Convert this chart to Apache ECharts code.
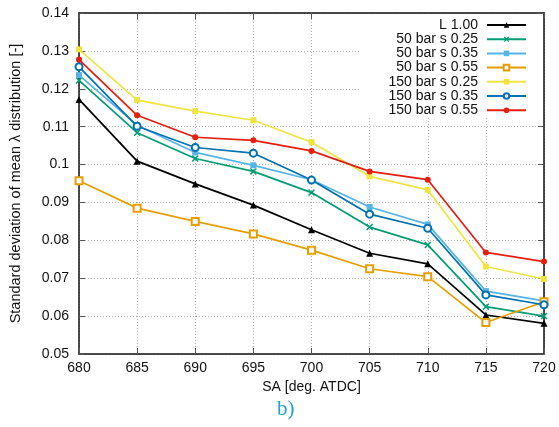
<!DOCTYPE html>
<html>
<head>
<meta charset="utf-8">
<script src="https://cdn.jsdelivr.net/npm/echarts@6/dist/echarts.min.js"></script>
<style>html,body{margin:0;padding:0;background:#fff}#c{width:559px;height:427px}</style>
</head>
<body>
<div id="c"></div>
<script>
// ---- data ----
var sa = [680, 685, 690, 695, 700, 705, 710, 715, 720];
var seriesNames = ['L 1.00', '50 bar s 0.25', '50 bar s 0.35', '50 bar s 0.55', '150 bar s 0.25', '150 bar s 0.35', '150 bar s 0.55'];
var L100    = [0.1172, 0.1009, 0.0949, 0.0893, 0.0828, 0.0766, 0.0738, 0.0603, 0.0581];
var b50s25  = [0.1222, 0.1084, 0.1016, 0.0982, 0.0926, 0.0835, 0.0788, 0.0625, 0.0600];
var b50s35  = [0.1236, 0.1104, 0.1032, 0.0998, 0.0960, 0.0888, 0.0842, 0.0666, 0.0640];
var b50s55  = [0.0957, 0.0885, 0.0850, 0.0817, 0.0774, 0.0725, 0.0704, 0.0583, 0.0638];
var b150s25 = [0.1304, 0.1170, 0.1141, 0.1117, 0.1059, 0.0969, 0.0933, 0.0731, 0.0698];
var b150s35 = [0.1258, 0.1101, 0.1045, 0.1030, 0.0959, 0.0869, 0.0832, 0.0656, 0.0630];
var b150s55 = [0.1277, 0.1130, 0.1072, 0.1064, 0.1036, 0.0982, 0.0960, 0.0768, 0.0744];
var xTicks = [680, 685, 690, 695, 700, 705, 710, 715, 720];
var yTicks = ['0.05', '0.06', '0.07', '0.08', '0.09', '0.1', '0.11', '0.12', '0.13', '0.14'];

// ---- styles ----
var FONT = "'Liberation Sans', Arial, Helvetica, sans-serif";
var colors = ['#000000', '#009e73', '#56b4e9', '#e69f00', '#f0e442', '#0072b2', '#e51e10'];
var crossPath = 'path://M0,1.5L1.5,0L5,3.5L8.5,0L10,1.5L6.5,5L10,8.5L8.5,10L5,6.5L1.5,10L0,8.5L3.5,5Z';
var symbols = ['triangle', crossPath, 'rect', 'emptyRect', 'rect', 'emptyCircle', 'circle'];
var symSizes = [7, 7, 6, 7, 6, 7, 6];
var allData = [L100, b50s25, b50s35, b50s55, b150s25, b150s35, b150s55];

function pairs(xs, ys) { return xs.map(function (x, i) { return [x, ys[i]]; }); }

var series = allData.map(function (d, i) {
  return {
    name: seriesNames[i], type: 'line', data: pairs(sa, d),
    symbol: symbols[i], symbolSize: symSizes[i],
    lineStyle: { color: colors[i], width: 1.7 },
    itemStyle: { color: colors[i], borderColor: colors[i], borderWidth: symbols[i].indexOf('empty') === 0 ? 1.4 : 0 },
    emphasis: { disabled: true }, animation: false, z: 2 + i * 0.01
  };
});

var legends = seriesNames.map(function (n, i) {
  return {
    data: [n], right: 32, top: 25 + 14.2 * i - 7, align: 'right', orient: 'vertical',
    padding: 0, itemWidth: 39, itemHeight: 7, selectedMode: false,
    textStyle: { fontFamily: FONT, fontSize: 14, color: '#111', padding: [0, 4, 0, 0] }
  };
});

var axisLineStyle = { show: true, lineStyle: { color: '#111', width: 1.5 } };
var splitStyle = { show: true, lineStyle: { color: '#b0b0b0', type: [1, 2], width: 1 } };

var chart = echarts.init(document.getElementById('c'), null, { renderer: 'canvas' });
chart.setOption({
  backgroundColor: '#fff',
  animation: false,
  grid: { left: 78, right: 15, top: 13, bottom: 73 },
  legend: legends,
  xAxis: [{
    type: 'value', min: xTicks[0], max: xTicks[xTicks.length - 1], interval: 5,
    name: 'SA [deg. ATDC]', nameLocation: 'middle', nameGap: 26,
    nameTextStyle: { fontFamily: FONT, fontSize: 14, color: '#111' },
    axisLine: axisLineStyle, axisTick: { inside: true, length: 6, lineStyle: { color: '#555' } },
    axisLabel: { fontFamily: FONT, fontSize: 14, color: '#111', margin: 7 },
    splitLine: splitStyle
  }, {
    type: 'value', position: 'top', min: xTicks[0], max: xTicks[xTicks.length - 1], interval: 5,
    axisLine: axisLineStyle, axisTick: { inside: true, length: 6, lineStyle: { color: '#555' } },
    axisLabel: { show: false }, splitLine: { show: false }
  }],
  yAxis: [{
    type: 'value', min: 0.05, max: 0.14, interval: 0.01,
    name: 'Standard deviation of mean \u03bb distribution [-]', nameLocation: 'middle', nameGap: 56,
    nameTextStyle: { fontFamily: FONT, fontSize: 14.5, color: '#111' },
    axisLine: axisLineStyle, axisTick: { inside: true, length: 6, lineStyle: { color: '#555' } },
    axisLabel: {
      fontFamily: FONT, fontSize: 14, color: '#111', margin: 10,
      formatter: function (v) { var idx = Math.round((v - 0.05) / 0.01); return yTicks[idx] !== undefined ? yTicks[idx] : ''; }
    },
    splitLine: splitStyle
  }, {
    type: 'value', position: 'right', min: 0.05, max: 0.14, interval: 0.01,
    axisLine: axisLineStyle, axisTick: { inside: true, length: 6, lineStyle: { color: '#555' } },
    axisLabel: { show: false }, splitLine: { show: false }
  }],
  graphic: [
    { type: 'rect', z: 1, silent: true, shape: { x: 360, y: 14, width: 183, height: 104 }, style: { fill: '#fff' } },
    { type: 'text', left: 277, top: 399, silent: true,
      style: { text: 'b)', font: "21px 'Liberation Serif', 'DejaVu Serif', serif", fill: '#1f9fe0' } }
  ],
  series: series
});
</script>
</body>
</html>
